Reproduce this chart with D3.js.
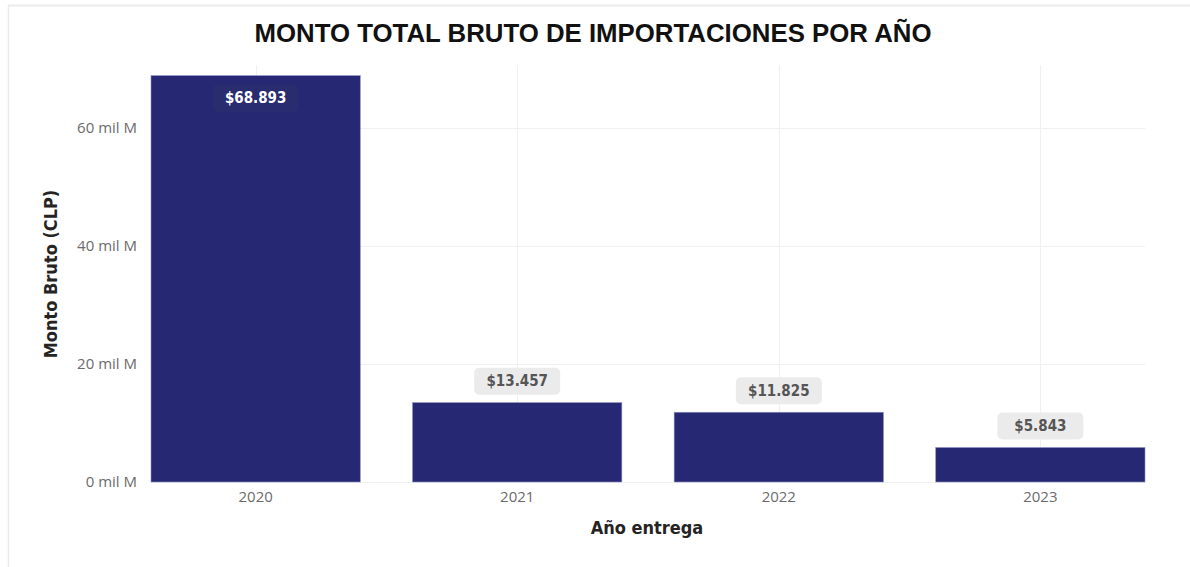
<!DOCTYPE html>
<html>
<head>
<meta charset="utf-8">
<script src="https://cdn.jsdelivr.net/npm/d3@7"></script>
<style>
  html, body { margin: 0; padding: 0; background: #fff; }
  svg { display: block; font-family: "Open Sans", sans-serif; }
</style>
</head>
<body>
<svg id="chart" width="1190" height="567"></svg>
<script>
// data
const years = ['2020', '2021', '2022', '2023']
const montos = [68.893, 13.457, 11.825, 5.843] // miles de millones CLP
const labels = ['$68.893', '$13.457', '$11.825', '$5.843']
const yTicks = [0, 20, 40, 60]

const width = 1190, height = 567
const margin = { top: 65, right: 45, bottom: 85, left: 151 }
const innerW = width - margin.left - margin.right
const innerH = height - margin.top - margin.bottom

const svg = d3.select('#chart')

// frame lines
svg.append('line').attr('x1', 8).attr('x2', width).attr('y1', 5.5).attr('y2', 5.5)
  .attr('stroke', '#ececec').attr('stroke-width', 2)
svg.append('line').attr('x1', 8.5).attr('x2', 8.5).attr('y1', 5).attr('y2', height)
  .attr('stroke', '#ececec').attr('stroke-width', 1.5)

// title
svg.append('text')
  .attr('x', 593).attr('y', 42)
  .attr('text-anchor', 'middle')
  .attr('font-family', '"Liberation Sans", Arial, sans-serif')
  .attr('font-weight', 'bold')
  .attr('font-size', 25.8)
  .attr('fill', '#111')
  .text('MONTO TOTAL BRUTO DE IMPORTACIONES POR AÑO')

const g = svg.append('g').attr('transform', `translate(${margin.left},${margin.top})`)

const x = d3.scaleBand().domain(years).range([0, innerW]).paddingInner(0.2).paddingOuter(0)
const y = d3.scaleLinear().domain([0, 70.7]).range([innerH, 0])

// gridlines
g.append('g').selectAll('line').data(yTicks).join('line')
  .attr('x1', 0).attr('x2', innerW)
  .attr('y1', d => Math.round(y(d)) + 0.5).attr('y2', d => Math.round(y(d)) + 0.5)
  .attr('stroke', '#f0f0f0')
g.append('g').selectAll('line').data(years).join('line')
  .attr('x1', d => Math.round(x(d) + x.bandwidth() / 2) + 0.5)
  .attr('x2', d => Math.round(x(d) + x.bandwidth() / 2) + 0.5)
  .attr('y1', 0).attr('y2', innerH)
  .attr('stroke', '#f0f0f0')

// y axis
const yAxis = g.append('g')
  .call(d3.axisLeft(y).tickValues(yTicks).tickSize(0).tickPadding(14).tickFormat(d => `${d} mil M`))
yAxis.select('.domain').remove()
yAxis.selectAll('text')
  .attr('font-family', '"Open Sans", sans-serif')
  .attr('font-size', 15).attr('fill', '#6b6b6b')

// x axis
const xAxis = g.append('g').attr('transform', `translate(0,${innerH})`)
  .call(d3.axisBottom(x).tickSize(0).tickPadding(9))
xAxis.select('.domain').remove()
xAxis.selectAll('text')
  .attr('font-family', '"Open Sans", sans-serif')
  .attr('font-size', 15).attr('fill', '#6b6b6b')

// axis titles
svg.append('text')
  .attr('x', 647).attr('y', 534)
  .attr('text-anchor', 'middle')
  .attr('font-family', '"DejaVu Sans Condensed", "DejaVu Sans", sans-serif')
  .attr('font-weight', 'bold').attr('font-size', 18).attr('fill', '#252423')
  .text('Año entrega')

svg.append('text')
  .attr('transform', 'translate(57,274) rotate(-90)')
  .attr('text-anchor', 'middle')
  .attr('font-family', '"DejaVu Sans Condensed", "DejaVu Sans", sans-serif')
  .attr('font-weight', 'bold').attr('font-size', 18).attr('fill', '#252423')
  .text('Monto Bruto (CLP)')

// bars
g.append('g').selectAll('rect').data(montos).join('rect')
  .attr('x', (d, i) => x(years[i]))
  .attr('y', d => y(d))
  .attr('width', x.bandwidth())
  .attr('height', d => innerH - y(d))
  .attr('fill', '#262873')
  .attr('stroke', '#8a8cc0').attr('stroke-width', 0.6)

// data labels
const lab = g.append('g').selectAll('g').data(montos).join('g')
  .attr('transform', (d, i) => {
    const cx = x(years[i]) + x.bandwidth() / 2
    const inside = y(d) < 60
    return `translate(${cx},${inside ? y(d) + 22 : y(d) - 22})`
  })

lab.append('rect')
  .attr('x', -43).attr('y', -13).attr('width', 86).attr('height', 27).attr('rx', 5)
  .attr('fill', d => y(d) < 60 ? '#2a2c70' : '#ebebeb')

lab.append('text')
  .attr('text-anchor', 'middle').attr('dy', '0.36em')
  .attr('font-family', '"DejaVu Sans Condensed", "DejaVu Sans", sans-serif')
  .attr('font-weight', 'bold').attr('font-size', 15)
  .attr('fill', d => y(d) < 60 ? '#ffffff' : '#555555')
  .text((d, i) => labels[i])
</script>
</body>
</html>
